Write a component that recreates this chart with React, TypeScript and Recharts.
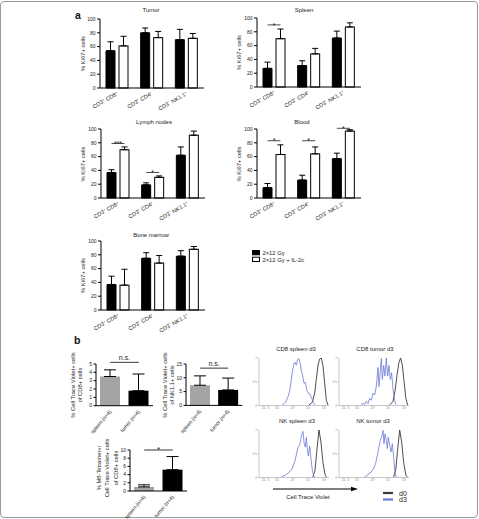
import React from 'react';
import {
  BarChart,
  Bar,
  XAxis,
  YAxis,
  ErrorBar,
  Cell,
  ReferenceLine,
  LineChart,
  Line,
  Legend,
} from 'recharts';

const FONT = '"Liberation Sans", Arial, Helvetica, sans-serif';
const INK = '#1c1c1c';

// ---------- panel a: Ki67+ fraction per organ ----------
const cellTypes = ['CD3⁺ CD8⁺', 'CD3⁺ CD4⁺', 'CD3⁻ NK1.1⁺'];
const ki67Ticks = [0, 20, 40, 60, 80, 100];
const treatmentNames = ['2×12 Gy', '2×12 Gy + IL-2c'];

const tumorIrr = [54, 80, 70];
const tumorIrrSem = [13, 7, 15];
const tumorIl2 = [61, 73, 72];
const tumorIl2Sem = [14, 9, 7];

const spleenIrr = [27, 31, 71];
const spleenIrrSem = [9, 7, 10];
const spleenIl2 = [70, 48, 87];
const spleenIl2Sem = [14, 8, 6];
const spleenSig = [{ index: 0, at: 90, mark: '*' }];

const lymphIrr = [37, 19, 62];
const lymphIrrSem = [4, 3, 12];
const lymphIl2 = [70, 30, 91];
const lymphIl2Sem = [4, 2, 6];
const lymphSig = [
  { index: 0, at: 79, mark: '***' },
  { index: 1, at: 37, mark: '*' },
];

const bloodIrr = [15, 26, 57];
const bloodIrrSem = [6, 7, 8];
const bloodIl2 = [63, 64, 97];
const bloodIl2Sem = [14, 10, 2];
const bloodSig = [
  { index: 0, at: 83, mark: '*' },
  { index: 1, at: 83, mark: '*' },
  { index: 2, at: 101, mark: '*' },
];

const marrowIrr = [37, 75, 78];
const marrowIrrSem = [12, 8, 8];
const marrowIl2 = [36, 68, 88];
const marrowIl2Sem = [23, 11, 4];

// ---------- panel b: Cell Trace Violet dilution ----------
const sites = ['spleen (n=4)', 'tumor (n=4)'];
const siteColors = ['#a4a4a4', '#000000'];

const ctvCd8 = [3.5, 1.8];
const ctvCd8Sem = [0.8, 2.0];
const ctvCd8Ticks = [0, 1, 2, 3, 4, 5];
const ctvCd8Sig = { at: 5.2, mark: 'n.s.' };

const ctvNk = [7.3, 5.6];
const ctvNkSem = [3.4, 4.3];
const ctvNkTicks = [0, 5, 10, 15];
const ctvNkSig = { at: 13.5, mark: 'n.s.' };

const tetCtv = [1.0, 5.2];
const tetCtvSem = [0.5, 3.2];
const tetCtvTicks = [0, 2, 4, 6, 8, 10];
const tetCtvSig = { at: 10, mark: '*' };

// histogram axes (biexponential display scale 0-100)
const flowTickPos = [6.3, 13.4, 26, 48.6, 70.6, 92.9];
const flowTickLabels = ['-10³', '0', '10³', '10⁴', '10⁵', '10⁶'];
const modeTicks = [0, 0.5, 1];

// normalised histograms: [channel, fraction of mode]
const cd8SpleenD0 = [
  [71.4, 0.01], [76.2, 0.07], [79.5, 0.26], [81.9, 0.55], [84.3, 0.85], [86.7, 0.98],
  [89, 1.0], [91.4, 0.84], [93.8, 0.47], [96.2, 0.11], [98.6, 0.01],
];
const cd8SpleenD3 = [
  [33.3, 0.01], [38.1, 0.07], [41.4, 0.18], [43.8, 0.31], [46.2, 0.55], [48.1, 0.75],
  [50, 0.88], [51.4, 0.91], [53.3, 0.85], [54.8, 0.95], [56.7, 0.99], [58.6, 0.91],
  [60.5, 0.73], [62.4, 0.62], [64.3, 0.47], [66.2, 0.49], [68.1, 0.33], [70, 0.26],
  [72.9, 0.24], [75.2, 0.15], [77.6, 0.07], [79.5, 0.02],
];
const cd8TumorD0 = [
  [72, 0.01], [77, 0.08], [80, 0.3], [83, 0.65], [85.5, 0.9], [88, 1.0],
  [90.5, 0.85], [93, 0.5], [95.5, 0.15], [98, 0.01],
];
const cd8TumorD3 = [
  [31.9, 0.0], [34.3, 0.05], [36.7, 0.02], [39, 0.09], [41.4, 0.04], [43.8, 0.15],
  [46.2, 0.11], [48.6, 0.26], [51, 0.22], [53.3, 0.4], [55.7, 0.8], [57.1, 0.4],
  [59, 0.73], [60.5, 0.99], [61.9, 0.55], [63.8, 0.84], [65.7, 0.62], [67.6, 1.0],
  [69.5, 0.62], [71.4, 0.84], [73.3, 0.55], [75.2, 0.69], [77.1, 0.36], [79, 0.15],
  [81, 0.02],
];
const nkSpleenD0 = [
  [77, 0.01], [80, 0.15], [82.5, 0.55], [85.7, 1.0], [88.5, 0.75], [91.5, 0.3],
  [94.5, 0.05], [97, 0.0],
];
const nkSpleenD3 = [
  [31.9, 0.01], [39, 0.06], [43.8, 0.12], [47.6, 0.19], [51, 0.33], [53.3, 0.47],
  [55.7, 0.64], [58.1, 0.68], [59.5, 0.8], [61.4, 0.92], [62.9, 0.97], [64.3, 0.74],
  [66.2, 0.64], [67.6, 0.84], [69, 0.6], [70.5, 0.45], [72.4, 0.66], [74.3, 0.38],
  [76.2, 0.15], [78.1, 0.04], [80, 0.0],
];
const nkTumorD0 = [
  [78, 0.01], [81, 0.15], [83.5, 0.55], [86.7, 1.0], [89.5, 0.75], [92.5, 0.3],
  [95.5, 0.05], [98, 0.0],
];
const nkTumorD3 = [
  [36.7, 0.01], [41.4, 0.06], [46.2, 0.12], [49.5, 0.19], [52.4, 0.3], [54.8, 0.47],
  [57.1, 0.64], [59, 0.78], [61, 0.85], [62.9, 0.99], [64.3, 0.71], [65.7, 0.92],
  [67.6, 0.78], [69, 0.61], [70.5, 0.85], [72.4, 0.68], [74.3, 0.54], [76.2, 0.71],
  [78.1, 0.43], [80, 0.09], [81.9, 0.01],
];

// ---------- helpers ----------
type Sig = { index: number; at: number; mark: string };

const BAR_SIZE = 9;
const BAR_GAP = 4;

function buildKiRows(irr: number[], irrSem: number[], il2: number[], il2Sem: number[], sig: Sig[] = []) {
  return cellTypes.map((name, i) => ({
    name,
    irr: irr[i],
    irrErr: [0, irrSem[i]],
    il2: il2[i],
    il2Err: [0, il2Sem[i]],
    sig: sig.find((s) => s.index === i) || null,
  }));
}

function buildSiteRows(values: number[], sem: number[]) {
  return sites.map((name, i) => ({ name, value: values[i], err: [0, sem[i]], color: siteColors[i] }));
}

function toPoints(pairs: number[][]) {
  return pairs.map(([x, y]) => ({ x, y }));
}

// open bar that also carries the comparison bracket to its filled partner
function OpenBarWithSig(props: any) {
  const { x, y, width, height, payload } = props;
  const sig = payload && payload.sig;
  let bracket = null;
  if (sig && payload.il2 > 0 && height > 0) {
    const perUnit = height / payload.il2;
    const ly = y + height - sig.at * perUnit;
    const x1 = x - BAR_GAP - width / 2;
    const x2 = x + width / 2;
    bracket = (
      <g>
        <line x1={x1} x2={x2} y1={ly} y2={ly} stroke={INK} strokeWidth={0.8} />
        <text x={(x1 + x2) / 2} y={ly + 2.6} textAnchor="middle" fontSize={7} fill={INK} fontFamily={FONT}>
          {sig.mark}
        </text>
      </g>
    );
  }
  return (
    <g>
      <rect x={x} y={y} width={width} height={height} fill="#ffffff" stroke="#000" strokeWidth={1} />
      {bracket}
    </g>
  );
}

function SlantTick(props: any) {
  const { x, y, payload, angle, fontSize } = props;
  return (
    <text
      x={x}
      y={y}
      dy="0.35em"
      textAnchor="end"
      transform={`rotate(${angle}, ${x}, ${y})`}
      fontSize={fontSize}
      fill={INK}
      fontFamily={FONT}
    >
      {payload.value}
    </text>
  );
}

function SwatchLegend(props: any) {
  const payload = props.payload || [];
  return (
    <svg width={90} height={16} style={{ display: 'block', overflow: 'visible' }}>
      {payload.map((entry: any, i: number) => (
        <g key={i} transform={`translate(0, ${i * 6.7})`}>
          <rect x={0.5} y={0.5} width={7} height={4.3} fill={entry.color} stroke="#000" strokeWidth={1} />
          <text x={10.5} y={4.8} fontSize={5.8} fill={INK} fontFamily={FONT}>
            {entry.value}
          </text>
        </g>
      ))}
    </svg>
  );
}

function LineKeyLegend(props: any) {
  const payload = props.payload || [];
  return (
    <svg width={30} height={14} style={{ display: 'block', overflow: 'visible' }}>
      {payload.map((entry: any, i: number) => (
        <g key={i} transform={`translate(0, ${i * 6.5})`}>
          <line x1={0} x2={10} y1={3} y2={3} stroke={entry.color} strokeWidth={2.2} />
          <text x={16} y={5.6} fontSize={7} fill={INK} fontFamily={FONT}>
            {entry.value}
          </text>
        </g>
      ))}
    </svg>
  );
}

// ---------- chart blocks ----------
const KI_PLOT_W = 104;
const KI_PLOT_H = 69;

function KiPanel({ rows, plotLeft, plotTop, legend = false }: any) {
  const padL = 34;
  const padT = 12;
  const padR = 6;
  const axisH = 34;
  const width = padL + KI_PLOT_W + padR;
  const height = padT + KI_PLOT_H + axisH;
  return (
    <div style={{ position: 'absolute', left: plotLeft - padL, top: plotTop - padT, width, height }}>
      <BarChart
        width={width}
        height={height}
        data={rows}
        margin={{ top: padT, right: padR, bottom: 0, left: 0 }}
        barSize={BAR_SIZE}
        barGap={BAR_GAP}
      >
        <XAxis
          dataKey="name"
          interval={0}
          height={axisH}
          tickLine={false}
          tickSize={3}
          axisLine={{ stroke: '#000', strokeWidth: 1 }}
          tick={<SlantTick angle={-30} fontSize={5.6} />}
        />
        <YAxis
          type="number"
          domain={[0, 100]}
          ticks={ki67Ticks}
          interval={0}
          width={padL}
          tickSize={3}
          tickMargin={1.5}
          axisLine={{ stroke: '#000', strokeWidth: 1 }}
          tickLine={{ stroke: '#000', strokeWidth: 1 }}
          tick={{ fontSize: 5, fill: INK, fontFamily: FONT }}
        />
        <Bar dataKey="irr" name={treatmentNames[0]} fill="#000" stroke="#000" strokeWidth={1} isAnimationActive={false}>
          <ErrorBar dataKey="irrErr" width={3} stroke="#000" strokeWidth={1} />
        </Bar>
        <Bar
          dataKey="il2"
          name={treatmentNames[1]}
          fill="#ffffff"
          stroke="#000"
          isAnimationActive={false}
          shape={OpenBarWithSig}
        >
          <ErrorBar dataKey="il2Err" width={3} stroke="#000" strokeWidth={1} />
        </Bar>
        {legend && (
          <Legend
            layout="vertical"
            align="center"
            verticalAlign="middle"
            content={SwatchLegend}
            wrapperStyle={{ left: 185.5, top: 20.5, width: 90, height: 16 }}
          />
        )}
      </BarChart>
    </div>
  );
}

function TracePanel({ rows, plotLeft, plotTop, plotW, plotH, max, ticks, sig }: any) {
  const padL = 16;
  const padT = 16;
  const padR = 6;
  const axisH = 40;
  const width = padL + plotW + padR;
  const height = padT + plotH + axisH;
  return (
    <div style={{ position: 'absolute', left: plotLeft - padL, top: plotTop - padT, width, height }}>
      <BarChart
        width={width}
        height={height}
        data={rows}
        margin={{ top: padT, right: padR, bottom: 0, left: 0 }}
        barSize={20}
      >
        <XAxis
          dataKey="name"
          interval={0}
          height={axisH}
          tickLine={false}
          tickSize={3}
          axisLine={{ stroke: '#000', strokeWidth: 1 }}
          tick={<SlantTick angle={-50} fontSize={5.2} />}
        />
        <YAxis
          type="number"
          domain={[0, max]}
          ticks={ticks}
          interval={0}
          width={padL}
          tickSize={2.5}
          tickMargin={1.5}
          axisLine={{ stroke: '#000', strokeWidth: 1 }}
          tickLine={{ stroke: '#000', strokeWidth: 1 }}
          tick={{ fontSize: 5, fill: INK, fontFamily: FONT }}
        />
        <Bar dataKey="value" isAnimationActive={false}>
          {rows.map((r: any) => (
            <Cell key={r.name} fill={r.color} />
          ))}
          <ErrorBar dataKey="err" width={6} stroke="#000" strokeWidth={1} />
        </Bar>
        <ReferenceLine
          segment={[
            { x: rows[0].name, y: sig.at },
            { x: rows[1].name, y: sig.at },
          ]}
          stroke="#000"
          strokeWidth={0.8}
          ifOverflow="visible"
          label={{
            value: sig.mark,
            position: 'top',
            offset: sig.mark === '*' ? -1.5 : 2,
            fontSize: sig.mark === '*' ? 8 : 7,
            fill: INK,
            fontFamily: FONT,
          }}
        />
      </BarChart>
    </div>
  );
}

const HIST_W = 70;
const HIST_H = 47.5;

function HistPanel({ d0, d3, plotLeft, plotTop, legend = false }: any) {
  const padL = 12;
  const padT = 3;
  const padR = 4;
  const axisH = 8;
  const padB = legend ? 18 : 0;
  const width = padL + HIST_W + padR + (legend ? 30 : 0);
  const height = padT + HIST_H + axisH + padB;
  return (
    <div style={{ position: 'absolute', left: plotLeft - padL, top: plotTop - padT, width, height }}>
      <LineChart
        width={width}
        height={height}
        margin={{ top: padT, right: padR + (legend ? 30 : 0), bottom: padB, left: 0 }}
      >
        <XAxis
          type="number"
          dataKey="x"
          domain={[0, 100]}
          allowDataOverflow
          ticks={flowTickPos}
          interval={0}
          height={axisH}
          tickSize={1.2}
          tickMargin={0.5}
          tickFormatter={(v: number) => flowTickLabels[flowTickPos.indexOf(v)] || ''}
          axisLine={{ stroke: '#b8b8b8', strokeWidth: 0.8 }}
          tickLine={{ stroke: '#b8b8b8', strokeWidth: 0.6 }}
          tick={{ fontSize: 3, fill: '#8a8a8a', fontFamily: FONT }}
        />
        <YAxis
          type="number"
          domain={[0, 1]}
          ticks={modeTicks}
          interval={0}
          allowDataOverflow
          width={padL}
          tickSize={1.2}
          tickMargin={1}
          axisLine={{ stroke: '#b8b8b8', strokeWidth: 0.8 }}
          tickLine={{ stroke: '#b8b8b8', strokeWidth: 0.6 }}
          tick={{ fontSize: 3, fill: '#8a8a8a', fontFamily: FONT }}
        />
        <Line
          data={toPoints(d0)}
          dataKey="y"
          name="d0"
          type="linear"
          stroke="#3a3a3a"
          strokeWidth={0.9}
          dot={false}
          isAnimationActive={false}
        />
        <Line
          data={toPoints(d3)}
          dataKey="y"
          name="d3"
          type="linear"
          stroke="#6a78d6"
          strokeWidth={0.8}
          dot={false}
          isAnimationActive={false}
        />
        {legend && (
          <Legend
            layout="vertical"
            align="center"
            verticalAlign="middle"
            content={LineKeyLegend}
            wrapperStyle={{ left: 55.5, top: 63, width: 30, height: 14 }}
          />
        )}
      </LineChart>
    </div>
  );
}

// ---------- text annotations ----------
function VText({ x, y, children, size = 5.8 }: any) {
  return (
    <text
      x={x}
      y={y}
      textAnchor="middle"
      transform={`rotate(-90, ${x}, ${y})`}
      fontSize={size}
      fill={INK}
      fontFamily={FONT}
    >
      {children}
    </text>
  );
}

function HText({ x, y, children, size = 6 }: any) {
  return (
    <text x={x} y={y} textAnchor="middle" fontSize={size} fill={INK} fontFamily={FONT}>
      {children}
    </text>
  );
}

export default function App() {
  const tumorRows = buildKiRows(tumorIrr, tumorIrrSem, tumorIl2, tumorIl2Sem);
  const spleenRows = buildKiRows(spleenIrr, spleenIrrSem, spleenIl2, spleenIl2Sem, spleenSig);
  const lymphRows = buildKiRows(lymphIrr, lymphIrrSem, lymphIl2, lymphIl2Sem, lymphSig);
  const bloodRows = buildKiRows(bloodIrr, bloodIrrSem, bloodIl2, bloodIl2Sem, bloodSig);
  const marrowRows = buildKiRows(marrowIrr, marrowIrrSem, marrowIl2, marrowIl2Sem);

  return (
    <div
      style={{
        position: 'absolute',
        left: 0,
        top: 0,
        width: 479,
        height: 519,
        background: '#ffffff',
        overflow: 'hidden',
        fontFamily: FONT,
      }}
    >
      <div
        style={{
          position: 'absolute',
          left: 0,
          top: 1,
          width: 476,
          height: 515,
          border: '1px solid #9a9a9a',
          borderRadius: 4,
        }}
      />

      <KiPanel rows={tumorRows} plotLeft={100} plotTop={19} />
      <KiPanel rows={spleenRows} plotLeft={256.5} plotTop={18.3} />
      <KiPanel rows={lymphRows} plotLeft={100.5} plotTop={129.3} />
      <KiPanel rows={bloodRows} plotLeft={256.5} plotTop={129.3} />
      <KiPanel rows={marrowRows} plotLeft={100.5} plotTop={241} legend />

      <TracePanel
        rows={buildSiteRows(ctvCd8, ctvCd8Sem)}
        plotLeft={96}
        plotTop={364}
        plotW={57}
        plotH={41.7}
        max={5}
        ticks={ctvCd8Ticks}
        sig={ctvCd8Sig}
      />
      <TracePanel
        rows={buildSiteRows(ctvNk, ctvNkSem)}
        plotLeft={185.7}
        plotTop={364.3}
        plotW={56.3}
        plotH={41.4}
        max={15}
        ticks={ctvNkTicks}
        sig={ctvNkSig}
      />
      <TracePanel
        rows={buildSiteRows(tetCtv, tetCtvSem)}
        plotLeft={130}
        plotTop={450}
        plotW={57}
        plotH={41}
        max={10}
        ticks={tetCtvTicks}
        sig={tetCtvSig}
      />

      <HistPanel d0={cd8SpleenD0} d3={cd8SpleenD3} plotLeft={258.8} plotTop={357.5} />
      <HistPanel d0={cd8TumorD0} d3={cd8TumorD3} plotLeft={339.3} plotTop={357.5} />
      <HistPanel d0={nkSpleenD0} d3={nkSpleenD3} plotLeft={258.8} plotTop={430} />
      <HistPanel d0={nkTumorD0} d3={nkTumorD3} plotLeft={339.3} plotTop={430} legend />

      <svg
        width={479}
        height={519}
        style={{ position: 'absolute', left: 0, top: 0, pointerEvents: 'none' }}
      >
        <text x={75} y={18.5} fontSize={10.5} fontWeight="bold" fill="#111" fontFamily={FONT}>
          a
        </text>
        <text x={74} y={344} fontSize={10.5} fontWeight="bold" fill="#111" fontFamily={FONT}>
          b
        </text>

        <HText x={151} y={12}>Tumor</HText>
        <HText x={304} y={12}>Spleen</HText>
        <HText x={154} y={124}>Lymph nodes</HText>
        <HText x={302} y={124}>Blood</HText>
        <HText x={151} y={237}>Bone marrow</HText>

        <VText x={85} y={53.5}>% Ki67+ cells</VText>
        <VText x={241} y={52.5}>% Ki67+ cells</VText>
        <VText x={85} y={164}>% Ki67+ cells</VText>
        <VText x={241} y={164}>% Ki67+ cells</VText>
        <VText x={85} y={275.5}>% Ki67+ cells</VText>

        <VText x={74.5} y={385}>% Cell Trace Violet+ cells</VText>
        <VText x={82} y={385}>of CD8+ cells</VText>
        <VText x={166.5} y={385}>% Cell Trace Violet+ cells</VText>
        <VText x={173.5} y={385}>of NK1.1+ cells</VText>
        <VText x={101} y={468}>% M8-Tetramer+/</VText>
        <VText x={109} y={468}>Cell Trace Violet+ cells</VText>
        <VText x={117.5} y={468}>of CD8+ cells</VText>

        <HText x={296} y={351}>CD8 spleen d3</HText>
        <HText x={375} y={351}>CD8 tumor d3</HText>
        <HText x={297} y={422.5}>NK spleen d3</HText>
        <HText x={373} y={422.5}>NK tumor d3</HText>

        <line x1={273} y1={489} x2={352} y2={489} stroke="#000" strokeWidth={1} />
        <polygon points="351,486.8 358,489 351,491.2" fill="#000" />
        <HText x={308} y={498.5}>Cell Trace Violet</HText>
      </svg>
    </div>
  );
}
